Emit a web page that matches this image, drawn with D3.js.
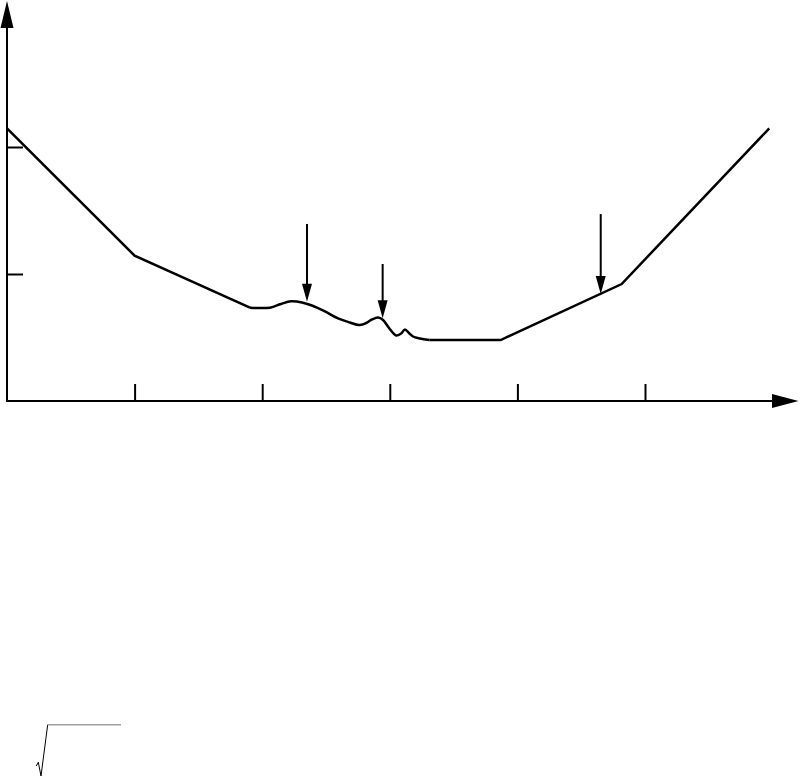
<!DOCTYPE html>
<html>
<head>
<meta charset="utf-8">
<script src="https://cdnjs.cloudflare.com/ajax/libs/d3/7.8.5/d3.min.js"></script>
<style>
  body { margin: 0; background: #fff; }
  svg { display: block; }
  .axis path.domain { display: none; }
  .axis line { stroke: #000; stroke-width: 2; }
</style>
</head>
<body>
<div id="body"></div>
<script>
// tick positions (no labels in the figure)
var xTicks = [1, 2, 3, 4, 5];
var yTicks = [1, 2];

// curve, in axis units
var leftSegment = [[0, 2.147], [1.0, 1.144], [1.904, 0.735]];
var wiggleSegment = [
  [1.904, 0.735], [2.061, 0.735], [2.147, 0.764], [2.226, 0.785], [2.312, 0.776],
  [2.390, 0.752], [2.484, 0.709], [2.594, 0.650], [2.688, 0.618], [2.759, 0.598],
  [2.806, 0.610], [2.861, 0.642], [2.908, 0.657], [2.947, 0.638], [2.994, 0.575],
  [3.049, 0.516], [3.088, 0.531], [3.119, 0.563], [3.150, 0.535], [3.182, 0.508],
  [3.237, 0.492], [3.310, 0.480]
];
var rightSegment = [[3.310, 0.480], [3.869, 0.480], [4.817, 0.921], [5.974, 2.147]];

// pointer arrows: x, top, tip
var pointers = [
  [2.351, 1.394, 0.782],
  [2.944, 1.079, 0.651],
  [4.653, 1.472, 0.843]
];

var width = 801, height = 777;

var x = d3.scaleLinear().domain([0, 5]).range([7, 645]);
var y = d3.scaleLinear().domain([0, 2]).range([401, 147]);

var svg = d3.select("#body").append("svg")
    .attr("width", width)
    .attr("height", height);

// axes lines with arrowheads
svg.append("line")
    .attr("x1", x(0)).attr("y1", y(0) + 1)
    .attr("x2", x(0)).attr("y2", 20)
    .attr("stroke", "#000").attr("stroke-width", 2);
svg.append("path")
    .attr("d", "M" + x(0) + ",1L" + (x(0) - 6.5) + ",28L" + (x(0) + 6.5) + ",28Z")
    .attr("fill", "#000");

svg.append("line")
    .attr("x1", x(0) - 1).attr("y1", y(0))
    .attr("x2", 780).attr("y2", y(0))
    .attr("stroke", "#000").attr("stroke-width", 2);
svg.append("path")
    .attr("d", "M798.5," + y(0) + "L772," + (y(0) - 7) + "L772," + (y(0) + 7) + "Z")
    .attr("fill", "#000");

// ticks
svg.append("g")
    .attr("class", "x axis")
    .attr("transform", "translate(0," + y(0) + ")")
    .call(d3.axisBottom(x).tickValues(xTicks).tickSizeInner(-17).tickSizeOuter(0).tickFormat(""));

svg.append("g")
    .attr("class", "y axis")
    .attr("transform", "translate(" + x(0) + ",0)")
    .call(d3.axisLeft(y).tickValues(yTicks).tickSizeInner(-16).tickSizeOuter(0).tickFormat(""));

// curve
var straight = d3.line()
    .x(function(d) { return x(d[0]); })
    .y(function(d) { return y(d[1]); });
var smooth = d3.line()
    .x(function(d) { return x(d[0]); })
    .y(function(d) { return y(d[1]); })
    .curve(d3.curveCatmullRom.alpha(0.5));

[leftSegment, rightSegment].forEach(function(seg) {
  svg.append("path")
      .attr("d", straight(seg))
      .attr("fill", "none").attr("stroke", "#000")
      .attr("stroke-width", 2.5).attr("stroke-linejoin", "miter");
});
svg.append("path")
    .attr("d", smooth(wiggleSegment))
    .attr("fill", "none").attr("stroke", "#000")
    .attr("stroke-width", 2.5).attr("stroke-linejoin", "round");

// pointer arrows
var ptr = svg.append("g").selectAll("g")
    .data(pointers)
  .enter().append("g");
ptr.append("line")
    .attr("x1", function(d) { return x(d[0]); })
    .attr("x2", function(d) { return x(d[0]); })
    .attr("y1", function(d) { return y(d[1]); })
    .attr("y2", function(d) { return y(d[2]) - 10; })
    .attr("stroke", "#000").attr("stroke-width", 2);
ptr.append("path")
    .attr("d", function(d) {
      var px = x(d[0]), py = y(d[2]);
      return "M" + px + "," + py + "L" + (px - 5) + "," + (py - 18) + "L" + (px + 5) + "," + (py - 18) + "Z";
    })
    .attr("fill", "#000");

// empty radical sign at bottom left
svg.append("path")
    .attr("d", "M36.3,766L38.3,762.3L41,776L47.7,724.7")
    .attr("fill", "none").attr("stroke", "#000").attr("stroke-width", 1);
svg.append("line")
    .attr("x1", 47.7).attr("y1", 724.7)
    .attr("x2", 121).attr("y2", 724.7)
    .attr("stroke", "#a0a0a0").attr("stroke-width", 1.5);
</script>
</body>
</html>
